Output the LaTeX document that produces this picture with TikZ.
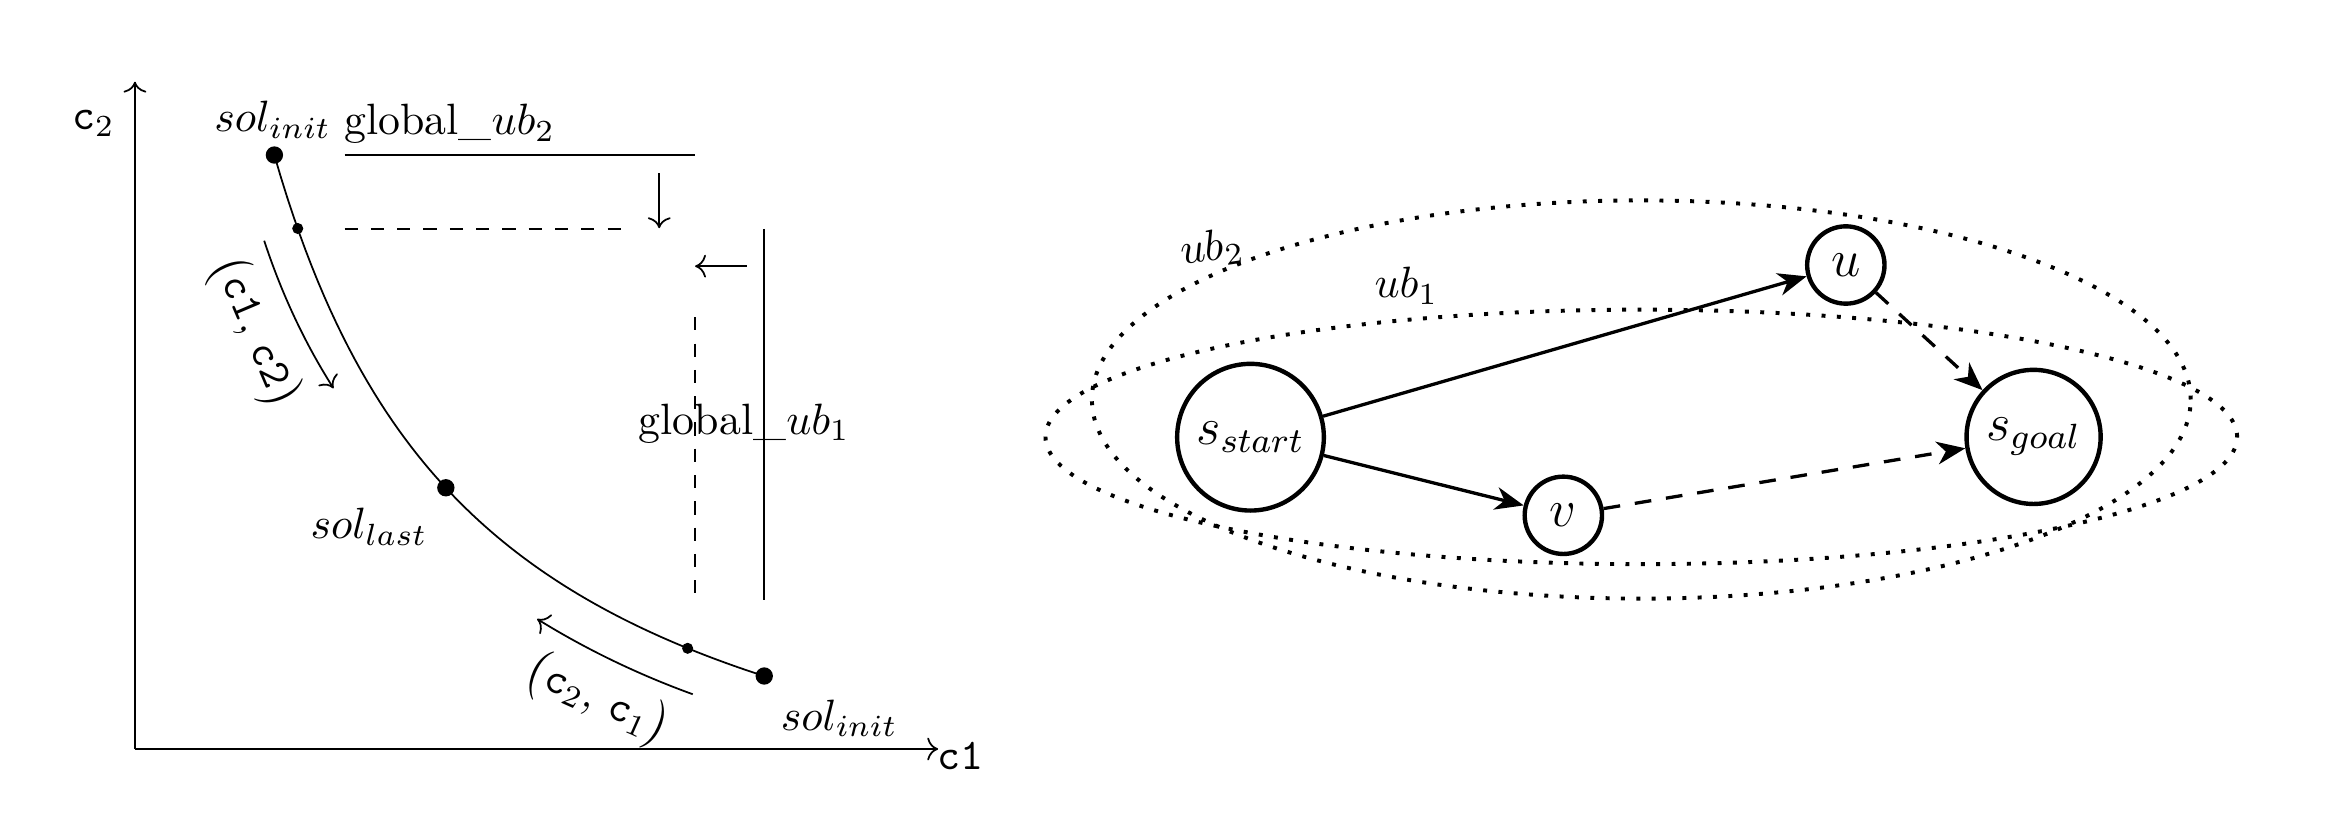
\documentclass[tikz,border=0pt]{standalone}
\usetikzlibrary{arrows.meta,shapes.geometric}
\begin{document}
\begin{tikzpicture}[x=0.012cm,y=-0.012cm,
  bigdot/.style={circle,fill,inner sep=0pt,minimum size=0.139cm},
  smalldot/.style={circle,fill,inner sep=0pt,minimum size=0.089cm},
  thinarrow/.style={->},
  state/.style={circle,draw,line width=1pt,inner sep=0pt,font=\large},
  edge/.style={line width=0.75pt,-{Stealth[length=6.5pt,width=5.2pt,inset=2pt]}},
  dedge/.style={edge,dash pattern=on 3.8pt off 3.4pt},
  ubshape/.style={ellipse,draw,line width=0.9pt,dash pattern=on 0.9pt off 2.6pt,inner sep=0pt}
]
\useasboundingbox (0,0) rectangle (1560,553);

% ---------- left plot ----------
\coordinate (O) at (90.2,500.6);
\coordinate (ytop) at (90.2,54.6);
\coordinate (xend) at (627,500.6);
\draw[thinarrow] (O) -- (ytop);
\draw[thinarrow] (O) -- (xend);
\node (c1lab) at (642,505) {\texttt{c1}};
\node (c2lab) at (62.4,82.4) {$\mathtt{c}_2$};

\draw plot[domain=183.4:510.8,samples=80] (\x,{604.4-718.15/((\x-39.96)/100)});
\node[bigdot] (p1) at (183.4,103.6) {};
\node[smalldot] (p2) at (199,152.7) {};
\node[bigdot] (p3) at (298,326) {};
\node[smalldot] (p4) at (459.6,433.3) {};
\node[bigdot] (p5) at (510.8,451.8) {};

\node (solinitA) at (182.3,80.2) {$sol_{init}$};
\node (gubtwo) at (300.5,83) {global\_$ub_2$};
\node (sollast) at (246.7,352) {$sol_{last}$};
\node (solinitB) at (561,480) {$sol_{init}$};
\node (gubone) at (497.5,283) {global\_$ub_1$};

\coordinate (h1a) at (230.3,103.6); \coordinate (h1b) at (464.5,103.6);
\draw (h1a) -- (h1b);
\coordinate (h2a) at (230.3,153); \coordinate (h2b) at (418.5,153);
\draw[dashed] (h2a) -- (h2b);
\coordinate (da) at (440.6,115.8); \coordinate (db) at (440.6,152.5);
\draw[thinarrow] (da) -- (db);
\coordinate (la) at (499,177.9); \coordinate (lb) at (464.6,177.9);
\draw[thinarrow] (la) -- (lb);
\coordinate (v1a) at (510.8,153); \coordinate (v1b) at (510.8,401);
\draw (v1a) -- (v1b);
\coordinate (v2a) at (464.6,212); \coordinate (v2b) at (464.6,401);
\draw[dashed] (v2a) -- (v2b);

\coordinate (a1s) at (176.6,160.9); \coordinate (a1e) at (222.9,259.5);
\draw[thinarrow] (a1s) .. controls (188.2,196.3) and (203.7,229.2) .. (a1e);
\node[rotate=-67] (lab12) at (170,222) {$\big($\texttt{c1}, \texttt{c2}$\big)$};
\coordinate (a2s) at (463,464); \coordinate (a2e) at (359,413.7);
\draw[thinarrow] (a2s) .. controls (426.6,450.8) and (392,434.1) .. (a2e);
\node[rotate=-24] (lab21) at (399,468) {$\big(\mathtt{c}_2$, $\mathtt{c}_1\big)$};

% ---------- right graph ----------
\node[ubshape,minimum width=8.808cm,minimum height=3.192cm] (ubtwo) at (1097,267) {};
\node[ubshape,minimum width=9.552cm,minimum height=2.04cm] (ubone) at (1097,292) {};
\node[rotate=8] (ubtwolab) at (810,166) {$ub_2$};
\node (ubonelab) at (940,191) {$ub_1$};

\node[state,minimum size=1.176cm] (s) at (835.8,292.2) {$s_{start}$};
\node[state,minimum size=1.075cm] (g) at (1359.2,292) {$s_{goal}$};
\node[state,minimum size=0.62cm] (u) at (1233.7,177.1) {$u$};
\node[state,minimum size=0.62cm] (v) at (1044.9,344.4) {$v$};

\draw[edge] (s) -- (u);
\draw[edge] (s) -- (v);
\draw[dedge] (u) -- (g);
\draw[dedge] (v) -- (g);
\end{tikzpicture}
\end{document}
